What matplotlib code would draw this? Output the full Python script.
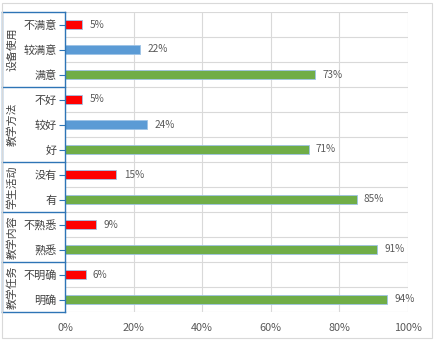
import matplotlib
matplotlib.use("Agg")
import matplotlib.pyplot as plt
import matplotlib.transforms as mtransforms
from matplotlib.patches import Rectangle
from matplotlib.lines import Line2D

plt.rcParams['font.family'] = ['Noto Sans CJK SC', 'DejaVu Sans']

# category rows, top to bottom
categories = ["不满意", "较满意", "满意",
              "不好", "较好", "好",
              "没有", "有",
              "不熟悉", "熟悉",
              "不明确", "明确"]
values = [5, 22, 73, 5, 24, 71, 15, 85, 9, 91, 6, 94]
levels = ["neg", "mid", "pos", "neg", "mid", "pos",
          "neg", "pos", "neg", "pos", "neg", "pos"]

groups = ["设备使用", "教学方法", "学生活动", "教学内容", "教学任务"]
group_sizes = [3, 3, 2, 2, 2]

x_ticks = [0, 20, 40, 60, 80, 100]

colors = {"neg": "#FF0000", "mid": "#5B9BD5", "pos": "#70AD47"}
axis_blue = "#2E75B6"
grid_gray = "#D9D9D9"
text_gray = "#595959"

W, H = 434, 340
fig = plt.figure(figsize=(W / 100, H / 100), dpi=100)

# outer chart frame
fig.patches.append(Rectangle((1.5 / W, 2.5 / H), 430 / W, 335 / H,
                             transform=fig.transFigure, fill=False,
                             edgecolor="#D9D9D9", linewidth=0.8))

left, right, top, bottom = 65, 408, 12, 312
ax = fig.add_axes([left / W, (H - bottom) / H, (right - left) / W, (bottom - top) / H])

n = len(categories)
ypos = list(range(n))
ax.barh(ypos, values, height=0.36,
        color=[colors[l] for l in levels],
        edgecolor="#9DC3E6", linewidth=0.6, zorder=3)

for y, v in zip(ypos, values):
    ax.text(v + 2.1, y, f"{v}%", va="center", ha="left",
            fontsize=7.2, color=text_gray, zorder=4)

ax.set_xlim(0, 100)
ax.set_ylim(n - 0.5, -0.5)

ax.set_xticks(x_ticks)
ax.set_xticklabels([f"{t}%" for t in x_ticks], fontsize=7.8, color=text_gray)
ax.tick_params(axis="x", length=0, pad=8)

ax.set_yticks(ypos)
ax.set_yticklabels(categories, fontsize=8, color="#404040")
ax.tick_params(axis="y", length=4, width=0.8, color=axis_blue, pad=2)

# grid lines between categories and at each x tick
ax.set_yticks([i - 0.5 for i in range(n + 1)], minor=True)
ax.tick_params(axis="y", which="minor", length=0)
ax.grid(axis="y", which="minor", color=grid_gray, linewidth=0.8, zorder=0)
ax.grid(axis="x", which="major", color=grid_gray, linewidth=0.8, zorder=0)

for s in ["top", "right", "bottom"]:
    ax.spines[s].set_visible(False)
ax.spines["left"].set_color(axis_blue)
ax.spines["left"].set_linewidth(1.0)
ax.spines["left"].set_zorder(5)

# grouped category boxes on the left
trans = mtransforms.blended_transform_factory(ax.transAxes, ax.transData)
x0 = (2 - left) / (right - left)
bounds = [-0.5]
for size in group_sizes:
    bounds.append(bounds[-1] + size)

for b in bounds:
    ax.add_line(Line2D([x0, 0], [b, b], transform=trans, color=axis_blue,
                       linewidth=1.0, clip_on=False))
ax.add_line(Line2D([x0, x0], [bounds[0], bounds[-1]], transform=trans,
                   color=axis_blue, linewidth=1.0, clip_on=False))

xg = (12 - left) / (right - left)
for name, b0, b1 in zip(groups, bounds[:-1], bounds[1:]):
    ax.text(xg, (b0 + b1) / 2, name, transform=trans, rotation=90,
            ha="center", va="center", fontsize=7.8, color="#404040")

fig.savefig("out.png", dpi=100)
